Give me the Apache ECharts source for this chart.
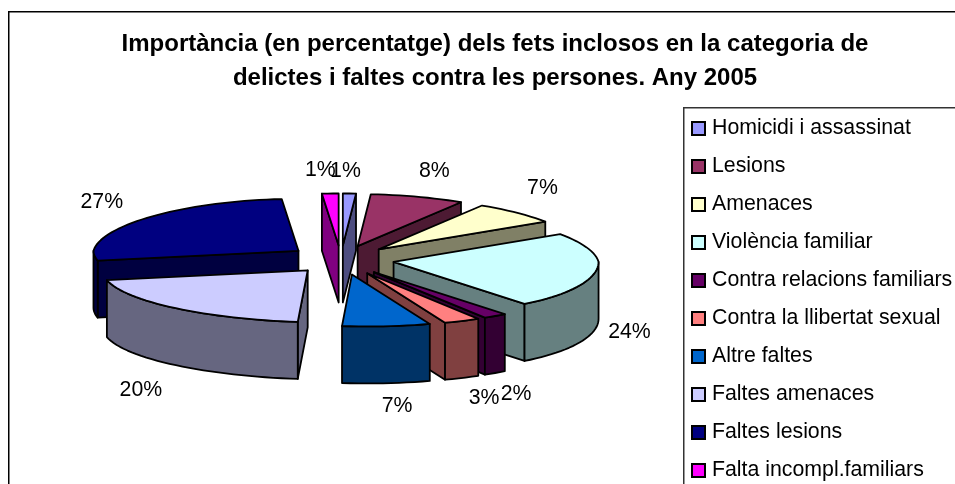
<!DOCTYPE html>
<html><head><meta charset="utf-8">
<style>html,body{margin:0;padding:0;background:#fff}#c{width:955px;height:484px}</style>
<script src="https://cdn.jsdelivr.net/npm/echarts@6/dist/echarts.min.js"></script>
</head><body><div id="c"></div>
<script>
const categories = ['Homicidi i assassinat','Lesions','Amenaces','Violència familiar','Contra relacions familiars','Contra la llibertat sexual','Altre faltes','Faltes amenaces','Faltes lesions','Falta incompl.familiars'];
const shares = [1.1, 7.9, 7, 24, 2, 3, 7, 20, 26.6, 1.4];
const colors = ['#9999FF','#993366','#FFFFCC','#CCFFFF','#660066','#FF8080','#0066CC','#CCCCFF','#000080','#FF00FF'];
const sideColors = ['#4D4D80','#4D1A33','#808066','#668080','#330033','#804040','#003366','#666680','#000040','#800080'];
const titleText = 'Importància (en percentatge) dels fets inclosos en la categoria de\ndelictes i faltes contra les persones. Any 2005';

// layout of the projected pie (not data)
const cx = 341, cy = 259, rx = 205, ry = 52, depth = 57, explode = 0.26, skew = 16;
const labelNudge = [[-4,-22],[17,-26],[26,-25],[34,60],[21,78],[22,77],[10,80],[-35,82],[-40,-17],[-10,-23]];

const total = shares.reduce((a, b) => a + b, 0);
const starts = []; let acc = 0;
shares.forEach(v => { starts.push(acc); acc += v; });
const rad = p => p / total * 2 * Math.PI;
const rim = (o, t, dy) => {
  const Y = -Math.cos(t);
  const scale = Y < 0 ? 1 + 0.07 * Y : 1;
  return [o[0] + rx * scale * Math.sin(t) + (Y > 0 ? skew * Y * Y : 0), o[1] + ry * Y + dy];
};
const depthOrder = shares.map((_, i) => i).sort((a, b) =>
  Math.cos(rad(starts[b] + shares[b] / 2)) - Math.cos(rad(starts[a] + shares[a] / 2)));

function sliceShapes(i, value) {
  const a = rad(starts[i]), b = rad(starts[i] + value), m = (a + b) / 2;
  const my = -Math.cos(m);
  const o = [cx + explode * rx * Math.sin(m) + (my > 0 ? 6 * my * my : 0),
             cy + explode * ry * my + (my > 0 ? 2 * my : 0)];
  const stroke = { stroke: '#000', lineWidth: 1.8, lineJoin: 'round' };
  const out = [];
  const poly = (pts, fill) => out.push({ type: 'polygon', shape: { points: pts }, style: Object.assign({ fill }, stroke) });
  const side = sideColors[i];
  const arc = (from, to, dy) => {
    const pts = [], n = Math.max(1, Math.ceil(Math.abs(to - from) / 0.04));
    for (let k = 0; k <= n; k++) pts.push(rim(o, from + (to - from) * k / n, dy));
    return pts;
  };
  const face = t => {
    const p = rim(o, t, 0);
    poly([o, p, [p[0], p[1] + depth], [o[0], o[1] + depth]], side);
  };
  if (Math.sin(a) < 0) face(a);
  if (Math.sin(b) > 0) face(b);
  const f0 = Math.max(a, Math.PI / 2), f1 = Math.min(b, 1.5 * Math.PI);
  if (f1 > f0) poly(arc(f0, f1, 0).concat(arc(f1, f0, depth)), side);
  poly([o].concat(arc(a, b, 0)), colors[i]);
  const lp = rim(o, m, 0);
  out.push({ type: 'text', z2: 50, style: {
    text: Math.round(value) + '%', x: lp[0] + labelNudge[i][0], y: lp[1] + labelNudge[i][1],
    fill: '#000', font: '21.3px "Liberation Sans", Arial, sans-serif', align: 'center', verticalAlign: 'middle' } });
  return out;
}

const series = categories.map((name, i) => ({
  type: 'custom', name, coordinateSystem: 'none', silent: true, animation: false,
  z: 2 + depthOrder.indexOf(i),
  itemStyle: { color: colors[i] },
  data: [[shares[i]]],
  renderItem: (params, api) => ({ type: 'group', children: sliceShapes(i, api.value(0)) })
}));

const chart = echarts.init(document.getElementById('c'), null, { renderer: 'canvas' });
chart.setOption({
  animation: false,
  backgroundColor: '#fff',
  title: { text: titleText, left: 490, top: 22, textAlign: 'center',
    textStyle: { fontFamily: '"Liberation Sans", Arial, sans-serif', fontWeight: 'bold', fontSize: 24, lineHeight: 34, color: '#000' } },
  legend: {
    orient: 'vertical', left: 691, top: 118, padding: 0, itemWidth: 13, itemHeight: 13, itemGap: 17, selectedMode: false,
    data: categories.map((name, i) => ({ name, icon: 'rect', itemStyle: { color: colors[i], borderColor: '#000', borderWidth: 2 } })),
    textStyle: { fontFamily: '"Liberation Sans", Arial, sans-serif', fontSize: 21.3, color: '#000', padding: [0,0,0,2] }
  },
  graphic: [
    { type: 'polyline', silent: true, shape: { points: [[8.75, 484], [8.75, 11.75], [955, 11.75]] }, style: { stroke: '#000', lineWidth: 1.5, fill: null } },
    { type: 'polyline', silent: true, shape: { points: [[683.75, 484], [683.75, 107.75], [955, 107.75]] }, style: { stroke: '#333', lineWidth: 1.5, fill: null } }
  ],
  series
});
</script></body></html>
